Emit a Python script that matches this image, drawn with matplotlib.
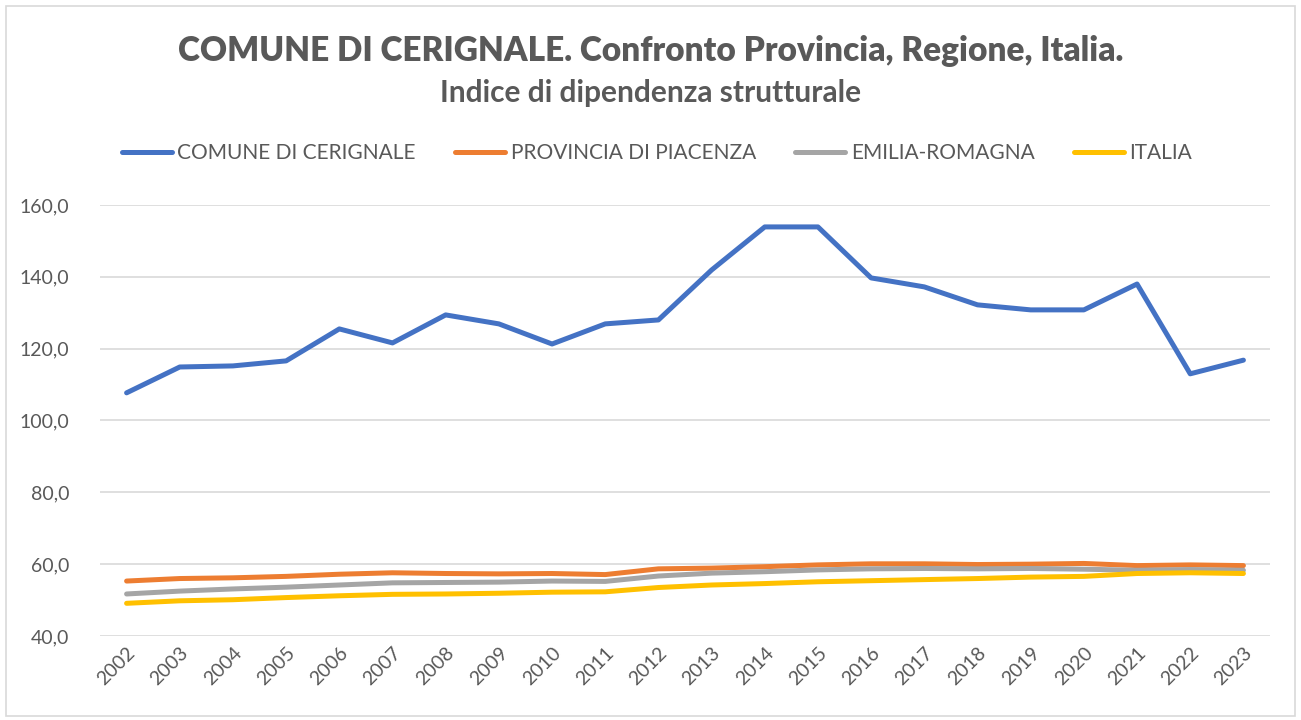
import numpy as np
import matplotlib.pyplot as plt
from matplotlib.ticker import FuncFormatter, MultipleLocator
from matplotlib.patches import Rectangle

years = [str(y) for y in range(2002, 2024)]

comune = [107.7, 114.9, 115.2, 116.6, 125.5, 121.6, 129.4, 126.9, 121.3, 126.9, 128.0,
          141.9, 153.9, 153.9, 139.7, 137.2, 132.2, 130.8, 130.8, 138.0, 113.0, 116.8]
provincia = [55.3, 56.0, 56.2, 56.6, 57.2, 57.6, 57.4, 57.3, 57.4, 57.1, 58.7,
             58.9, 59.3, 59.8, 60.1, 60.1, 59.9, 60.0, 60.2, 59.6, 59.8, 59.6]
regione = [51.7, 52.5, 53.1, 53.6, 54.2, 54.8, 54.9, 55.0, 55.3, 55.2, 56.7,
           57.5, 57.9, 58.4, 58.7, 58.8, 58.7, 58.8, 58.6, 58.3, 58.5, 58.3]
italia = [49.1, 49.8, 50.1, 50.7, 51.2, 51.6, 51.7, 51.9, 52.2, 52.3, 53.5,
          54.2, 54.6, 55.1, 55.4, 55.7, 56.0, 56.4, 56.6, 57.4, 57.6, 57.4]

series = [("COMUNE DI CERIGNALE", comune, "#4472C4"),
          ("PROVINCIA DI PIACENZA", provincia, "#ED7D31"),
          ("EMILIA-ROMAGNA", regione, "#A5A5A5"),
          ("ITALIA", italia, "#FFC000")]

plt.rcParams['font.family'] = ['Lato', 'DejaVu Sans']
txt = "#595959"

fig = plt.figure(figsize=(13.01, 7.2), dpi=100)
fig.patches.append(Rectangle((6/1301, 4/720), 1289/1301, 710/720, transform=fig.transFigure,
                             fill=False, edgecolor="#D9D9D9", lw=1.2))

ax = fig.add_axes([100/1301, 1 - 636/720, 1170/1301, 431/720])
x = np.arange(len(years))
for name, vals, col in series:
    ax.plot(x, vals, color=col, lw=3.6, label=name, solid_capstyle='round', solid_joinstyle='round')

ax.set_xlim(-0.5, len(years) - 0.5)
ax.set_ylim(40, 160)
ax.yaxis.set_major_locator(MultipleLocator(20))
ax.yaxis.set_major_formatter(FuncFormatter(lambda v, p: f"{v:.1f}".replace(".", ",")))
ax.set_xticks(x)
ax.set_xticklabels(years, rotation=45, ha='right', rotation_mode='anchor')
ax.tick_params(axis='both', length=0, labelsize=14, colors=txt)
ax.tick_params(axis='y', pad=22)
ax.tick_params(axis='x', pad=6)
ax.grid(axis='y', color="#D9D9D9", lw=1.2)
ax.set_axisbelow(True)
for s in ax.spines.values():
    s.set_visible(False)

fig.text(0.5, 1 - 51/720, "COMUNE DI CERIGNALE. Confronto Provincia, Regione, Italia.",
         ha='center', va='center', fontsize=24, fontweight='heavy', color=txt)
fig.text(0.5, 1 - 93/720, "Indice di dipendenza strutturale",
         ha='center', va='center', fontsize=21.5, fontweight='bold', color=txt)

leg = fig.legend(loc='center', bbox_to_anchor=(657/1301, 1 - 153/720), ncol=4, frameon=False,
                 fontsize=15, handlelength=2.4, handletextpad=0.25, columnspacing=1.9)
for t in leg.get_texts():
    t.set_color(txt)

fig.savefig("out.png", dpi=100)
